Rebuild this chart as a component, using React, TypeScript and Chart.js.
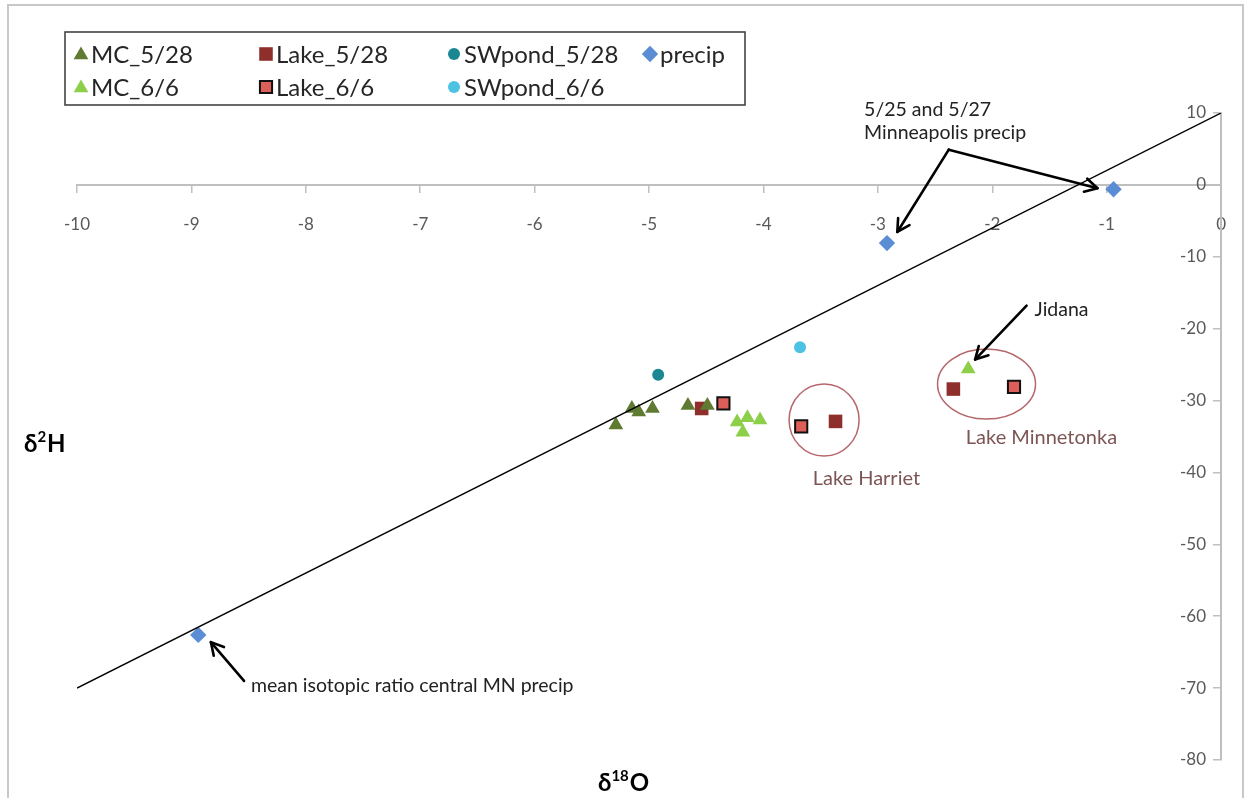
import React, { useEffect, useRef } from "react";
import { Chart, registerables } from "chart.js";

Chart.register(...registerables);

// ---------------- data ----------------
const mc528X = [-5.29, -5.15, -5.09, -4.97, -4.66, -4.49];
const mc528Y = [-33.4, -31.1, -31.6, -31.1, -30.7, -30.7];
const mc66X = [-4.23, -4.14, -4.03, -4.18, -2.21];
const mc66Y = [-33.0, -32.4, -32.7, -34.4, -25.6];
const lake528X = [-4.54, -3.37, -2.34];
const lake528Y = [-31.1, -32.9, -28.4];
const lake66X = [-4.35, -3.67, -1.81];
const lake66Y = [-30.4, -33.6, -28.1];
const sw528X = [-4.92];
const sw528Y = [-26.4];
const sw66X = [-3.68];
const sw66Y = [-22.6];
const precipX = [-0.94, -2.92, -8.94];
const precipY = [-0.6, -8.1, -62.6];
// meteoric water line end points
const lineX = [-10, 0];
const lineY = [-70, 10];

const xMin = -10;
const xMax = 0;
const xStep = 1;
const yMin = -80;
const yMax = 10;
const yStep = 10;

// ---------------- styles ----------------
const FONT = "Lato, 'DejaVu Sans', sans-serif";

type Series = {
  label: string;
  xs: number[];
  ys: number[];
  style: string;
  r: number;
  fill: string;
  stroke: string;
  bw: number;
};

const S_MC528: Series = { label: "MC_5/28", xs: mc528X, ys: mc528Y, style: "triangle", r: 8.5, fill: "#5e7b31", stroke: "#5e7b31", bw: 0 };
const S_LAKE528: Series = { label: "Lake_5/28", xs: lake528X, ys: lake528Y, style: "rect", r: 9.6, fill: "#8e2f2b", stroke: "#8e2f2b", bw: 0 };
const S_SW528: Series = { label: "SWpond_5/28", xs: sw528X, ys: sw528Y, style: "circle", r: 6, fill: "#1a8792", stroke: "#1a8792", bw: 0 };
const S_PRECIP: Series = { label: "precip", xs: precipX, ys: precipY, style: "rectRot", r: 8.2, fill: "#5b8dd5", stroke: "#5b8dd5", bw: 0 };
const S_MC66: Series = { label: "MC_6/6", xs: mc66X, ys: mc66Y, style: "triangle", r: 8.5, fill: "#8ecf4a", stroke: "#8ecf4a", bw: 0 };
const S_LAKE66: Series = { label: "Lake_6/6", xs: lake66X, ys: lake66Y, style: "rect", r: 8.6, fill: "#dc5f5a", stroke: "#111111", bw: 2 };
const S_SW66: Series = { label: "SWpond_6/6", xs: sw66X, ys: sw66Y, style: "circle", r: 6, fill: "#4cc3e3", stroke: "#4cc3e3", bw: 0 };

const seriesList: Series[] = [S_MC528, S_MC66, S_LAKE528, S_LAKE66, S_SW528, S_SW66, S_PRECIP];

// legend grid (rows of series)
const legendRows: Series[][] = [
  [S_MC528, S_LAKE528, S_SW528, S_PRECIP],
  [S_MC66, S_LAKE66, S_SW66],
];

function drawMarker(ctx: CanvasRenderingContext2D, s: Series, x: number, y: number) {
  const r = s.r;
  ctx.save();
  ctx.beginPath();
  if (s.style === "triangle") {
    ctx.moveTo(x, y - r);
    ctx.lineTo(x + Math.sin((2 * Math.PI) / 3) * r, y + 0.5 * r);
    ctx.lineTo(x - Math.sin((2 * Math.PI) / 3) * r, y + 0.5 * r);
    ctx.closePath();
  } else if (s.style === "rect") {
    const h = r * Math.SQRT1_2;
    ctx.rect(x - h, y - h, 2 * h, 2 * h);
  } else if (s.style === "rectRot") {
    ctx.moveTo(x - r, y);
    ctx.lineTo(x, y - r);
    ctx.lineTo(x + r, y);
    ctx.lineTo(x, y + r);
    ctx.closePath();
  } else {
    ctx.arc(x, y, r, 0, Math.PI * 2);
  }
  ctx.fillStyle = s.fill;
  ctx.fill();
  if (s.bw > 0) {
    ctx.lineWidth = s.bw;
    ctx.strokeStyle = s.stroke;
    ctx.stroke();
  }
  ctx.restore();
}

function arrow(ctx: CanvasRenderingContext2D, x1: number, y1: number, x2: number, y2: number) {
  ctx.beginPath();
  ctx.moveTo(x1, y1);
  ctx.lineTo(x2, y2);
  ctx.stroke();
  const a = Math.atan2(y2 - y1, x2 - x1);
  const L = 14;
  const w = 0.5;
  ctx.beginPath();
  ctx.moveTo(x2 - L * Math.cos(a - w), y2 - L * Math.sin(a - w));
  ctx.lineTo(x2, y2);
  ctx.lineTo(x2 - L * Math.cos(a + w), y2 - L * Math.sin(a + w));
  ctx.stroke();
}

function drawSup(
  ctx: CanvasRenderingContext2D,
  parts: { t: string; sup?: boolean }[],
  x: number,
  baseline: number,
  size: number
) {
  let cx = x;
  ctx.textBaseline = "alphabetic";
  ctx.textAlign = "left";
  for (const p of parts) {
    const fs = p.sup ? Math.round(size * 0.62) : size;
    ctx.font = `bold ${fs}px ${FONT}`;
    ctx.fillText(p.t, cx, p.sup ? baseline - size * 0.4 : baseline);
    cx += ctx.measureText(p.t).width + (p.sup ? 1 : 0);
  }
}

// moves the y-axis tick labels away from the axis line (Chart.js puts them flush on a data-positioned axis)
const yLabelGapPlugin = {
  id: "yLabelGap",
  beforeDraw(chart: any) {
    const sc = chart.scales.y;
    const items = sc.getLabelItems();
    if (items && !(items as any).__shifted) {
      items.forEach((it: any) => {
        it.options.translation[0] -= 15;
      });
      (items as any).__shifted = true;
    }
  },
};

const decorPlugin = {
  id: "decor",
  afterDatasetsDraw(chart: any) {
    const ctx: CanvasRenderingContext2D = chart.ctx;
    const xs = chart.scales.x;
    const ys = chart.scales.y;
    const px = (v: number) => xs.getPixelForValue(v);
    const py = (v: number) => ys.getPixelForValue(v);
    ctx.save();

    // circles around lakes
    ctx.strokeStyle = "#b5676a";
    ctx.lineWidth = 1.5;
    ctx.beginPath();
    ctx.ellipse(px(-3.47), py(-32.7), 35, 36, 0, 0, Math.PI * 2);
    ctx.stroke();
    ctx.beginPath();
    ctx.ellipse(px(-2.05), py(-27.7), 49, 35, 0, 0, Math.PI * 2);
    ctx.stroke();

    // lake labels
    ctx.fillStyle = "#7d5555";
    ctx.font = `20px ${FONT}`;
    ctx.textAlign = "center";
    ctx.textBaseline = "middle";
    ctx.fillText("Lake Harriet", px(-3.1), py(-40.8));
    ctx.fillText("Lake Minnetonka", px(-1.57), py(-35.1));

    // black notes
    ctx.fillStyle = "#222";
    ctx.textAlign = "left";
    ctx.font = `19.5px ${FONT}`;
    ctx.fillText("Jidana", px(-1.63), py(-17.4));
    ctx.fillText("5/25 and 5/27", px(-3.12), py(10.4));
    ctx.fillText("Minneapolis precip", px(-3.12), py(7.2));
    ctx.fillText("mean isotopic ratio central MN precip", px(-8.48), py(-69.7));

    // arrows
    ctx.strokeStyle = "#000";
    ctx.lineWidth = 2.6;
    ctx.lineCap = "round";
    ctx.lineJoin = "round";
    arrow(ctx, px(-1.7), py(-16.8), px(-2.15), py(-24.3));
    arrow(ctx, px(-2.38), py(4.9), px(-2.83), py(-6.55));
    arrow(ctx, px(-2.38), py(4.9), px(-1.08), py(-0.47));
    arrow(ctx, px(-8.54), py(-69.0), px(-8.83), py(-63.6));
    ctx.restore();
  },
  afterDraw(chart: any) {
    const ctx: CanvasRenderingContext2D = chart.ctx;
    ctx.save();
    // outer frame
    ctx.strokeStyle = "#c8c8c8";
    ctx.lineWidth = 2;
    ctx.strokeRect(8, 5, 1235, 805);

    // legend
    const boxL = 65, boxT = 32, boxW = 680, boxH = 73;
    ctx.strokeStyle = "#444";
    ctx.lineWidth = 1.6;
    ctx.strokeRect(boxL, boxT, boxW, boxH);
    const cols = [81, 266, 454, 650];
    const rows = [54, 87];
    ctx.font = `24px ${FONT}`;
    ctx.fillStyle = "#262626";
    ctx.textBaseline = "middle";
    ctx.textAlign = "left";
    legendRows.forEach((row, ri) => {
      row.forEach((s, ci) => {
        drawMarker(ctx, s, cols[ci], rows[ri] + (s.style === "triangle" ? 1 : 0));
        ctx.fillText(s.label, cols[ci] + 10, rows[ri] + 1);
      });
    });

    // axis titles
    ctx.fillStyle = "#000";
    drawSup(ctx, [{ t: "δ" }, { t: "2", sup: true }, { t: "H" }], 24, 452, 24);
    drawSup(ctx, [{ t: "δ" }, { t: "18", sup: true }, { t: "O" }], 598, 791, 24);
    ctx.restore();
  },
};

export default function App() {
  const ref = useRef<HTMLCanvasElement>(null);
  useEffect(() => {
    document.body.style.margin = "0";
    const datasets: any[] = [
      {
        type: "line",
        label: "GMWL",
        data: lineX.map((x, i) => ({ x, y: lineY[i] })),
        borderColor: "#000",
        borderWidth: 1.4,
        pointRadius: 0,
        fill: false,
        tension: 0,
      },
      ...seriesList.map((s) => ({
        type: "scatter",
        label: s.label,
        data: s.xs.map((x, i) => ({ x, y: s.ys[i] })),
        pointStyle: s.style,
        pointRadius: s.r,
        pointHoverRadius: s.r,
        backgroundColor: s.fill,
        borderColor: s.stroke,
        borderWidth: s.bw,
      })),
    ];
    const tickFont = { family: FONT, size: 17 };
    const chart = new Chart(ref.current as HTMLCanvasElement, {
      type: "scatter",
      data: { datasets },
      options: {
        animation: false,
        responsive: false,
        maintainAspectRatio: false,
        events: [],
        layout: { padding: { left: 77, right: 21, top: 113, bottom: 38 } },
        plugins: { legend: { display: false }, tooltip: { enabled: false } },
        scales: {
          x: {
            type: "linear",
            min: xMin,
            max: xMax,
            position: { y: 0 },
            ticks: { stepSize: xStep, color: "#595959", font: tickFont, padding: 22, maxRotation: 0, autoSkip: false },
            grid: { drawOnChartArea: false, tickLength: 7, color: "#bfbfbf", lineWidth: 1.5 },
            border: { color: "#bfbfbf", width: 2 },
          },
          y: {
            type: "linear",
            min: yMin,
            max: yMax,
            position: { x: 0 },
            ticks: { stepSize: yStep, color: "#595959", font: tickFont, padding: 12, autoSkip: false },
            grid: { drawOnChartArea: false, tickLength: 7, color: "#bfbfbf", lineWidth: 1.5 },
            border: { color: "#bfbfbf", width: 2 },
          },
        },
      } as any,
      plugins: [yLabelGapPlugin, decorPlugin],
    });
    return () => chart.destroy();
  }, []);
  return (
    <div style={{ position: "absolute", left: 0, top: 0, width: 1248, height: 798, background: "#fff", overflow: "hidden" }}>
      <canvas ref={ref} width={1248} height={798} style={{ width: 1248, height: 798, display: "block" }} />
    </div>
  );
}
